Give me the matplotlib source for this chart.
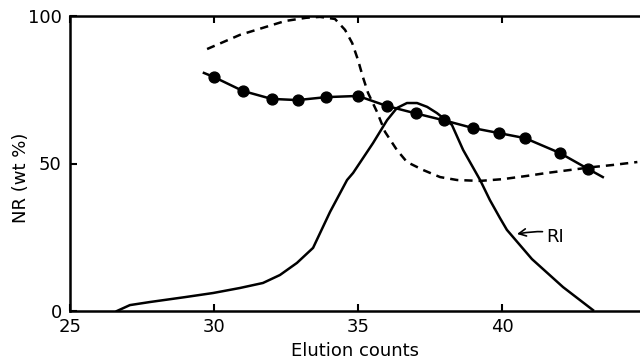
import matplotlib
matplotlib.use('Agg')
import matplotlib.pyplot as plt

# ============================================================
# Data
# ============================================================
# NR content measured per fraction (dots)
nr_x = [30, 31, 32, 32.9, 33.9, 35, 36, 37, 38, 39, 39.9, 40.8, 42, 43]
nr_y = [79.3, 74.6, 71.9, 71.5, 72.5, 72.9, 69.5, 67, 64.6, 62, 60.3, 58.6, 53.6, 48.1]
# line through the dots, with its short overhang on both ends
nr_line_x = [29.65] + nr_x + [43.5]
nr_line_y = [80.7] + nr_y + [45.4]

# dashed curve
dash_x = [29.76, 30.9, 32.47, 33.2, 33.68, 34.2, 34.55, 34.8, 35.0, 35.17, 35.35, 35.66,
          35.94, 36.35, 36.7, 37.26, 37.85, 38.44, 39.24, 40.03, 40.87, 41.56,
          42.36, 43.16, 43.85, 44.7]
dash_y = [88.8, 93.6, 98.3, 99.4, 99.7, 99, 95.3, 90.8, 85.1, 79.3, 73.9, 67.5,
          60.7, 54.6, 50.5, 47.8, 45.4, 44.4, 44.1, 44.7, 45.8, 46.8,
          47.8, 48.8, 49.5, 50.5]

# RI trace
ri_x = [26.63, 27.08, 27.78, 28.99, 29.97, 30.9, 31.7, 32.29, 32.88, 33.44, 34.03,
        34.62, 34.83, 35.52, 36.01, 36.35, 36.7, 37.05, 37.4, 37.74, 38.26, 38.65,
        39.24, 39.58, 39.93, 40.17, 41.04, 42.12, 43.16]
ri_y = [0, 2.0, 3.05, 4.7, 6.1, 7.8, 9.5, 12.2, 16.3, 21.4, 33.6,
        44.4, 46.8, 56.9, 64.7, 68.8, 70.5, 70.5, 69.2, 67.1, 63.1, 54.6,
        44.4, 37.6, 31.5, 27.5, 17.6, 8.1, 0.3]

x_ticks = [25, 30, 35, 40]
y_ticks = [0, 50, 100]

# ============================================================
# Plot
# ============================================================
fig = plt.figure(figsize=(6.4, 3.62), dpi=100)
ax = fig.add_axes([70 / 640, 51 / 362, 570 / 640, 295 / 362])

lw = 1.8
ax.plot(ri_x, ri_y, color='black', linewidth=lw, solid_joinstyle='round')
ax.plot(dash_x, dash_y, color='black', linewidth=lw, dashes=(3.3, 2.4))
ax.plot(nr_line_x, nr_line_y, color='black', linewidth=lw, solid_joinstyle='round')
ax.plot(nr_x, nr_y, 'o', color='black', markersize=7.8)

ax.annotate('RI', xy=(40.52, 26.1), xytext=(41.55, 25.2),
            fontsize=13, va='center', ha='left',
            arrowprops=dict(arrowstyle='->', color='black', lw=1.2,
                            connectionstyle='angle3,angleA=-60,angleB=10',
                            shrinkA=1, shrinkB=0))

ax.set_xlim(25, 25 + 570 / 28.8)
ax.set_ylim(0, 100)
ax.set_xticks(x_ticks)
ax.set_yticks(y_ticks)
ax.tick_params(direction='in', length=5, width=1.5, labelsize=13,
               top=True, right=False)
ax.tick_params(axis='x', pad=5)
ax.tick_params(axis='y', pad=6)
ax.spines['right'].set_visible(False)
for s in ['left', 'bottom', 'top']:
    ax.spines[s].set_linewidth(1.8)

ax.set_xlabel('Elution counts', fontsize=13, labelpad=4)
ax.set_ylabel('NR (wt %)', fontsize=13)
ax.yaxis.set_label_coords(-0.07, 0.45)

fig.savefig('out.png', dpi=100)
